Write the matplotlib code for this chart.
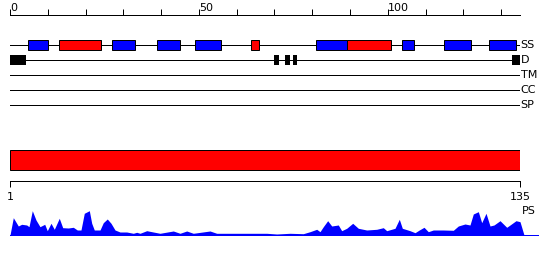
from __future__ import annotations

import matplotlib

matplotlib.use("Agg")
import matplotlib.pyplot as plt
from matplotlib.patches import Rectangle

SEQ_LENGTH = 135

TRACK_NAMES = ["SS", "D", "TM", "CC", "SP"]

# secondary structure segments (start, end) in residues
HELIX_SEGMENTS = [(4.8, 10.0), (27.1, 33.0), (38.9, 45.0), (49.0, 55.9),
                  (80.9, 89.1), (103.8, 107.0), (114.9, 121.9), (126.7, 134.0)]
STRAND_SEGMENTS = [(13.0, 24.0), (63.8, 66.0), (89.1, 100.9)]

# disorder segments
DISORDER_SEGMENTS = [(0.0, 4.2), (69.9, 71.1), (72.8, 74.1), (74.8, 76.1), (132.8, 135.0)]

# PS profile (residue position, score)
PS_POS = [1.0, 1.87, 3.18, 4.07, 5.39, 5.99, 6.86, 7.83, 8.88, 10.12, 10.8, 11.77,
          12.64, 13.95, 14.85, 16.32, 17.63, 18.68, 19.65, 20.52, 21.84, 22.47, 23.15,
          24.65, 25.51, 26.56, 27.54, 28.59, 29.9, 31.66, 33.4, 34.29, 35.16, 36.92,
          38.65, 40.41, 43.91, 45.67, 47.43, 49.16, 53.55, 55.31, 59.59, 63.19, 68.45,
          71.08, 74.57, 78.06, 79.83, 81.59, 82.45, 83.32, 84.47, 85.53, 87.26, 88.15,
          89.47, 91.04, 92.52, 94.72, 97.35, 99.08, 99.98, 102.16, 103.29, 104.08,
          106.1, 107.42, 108.54, 109.78, 110.91, 112.22, 114.85, 117.48, 118.79,
          120.55, 121.86, 122.73, 124.05, 124.94, 126.07, 127.12, 128.17, 129.75,
          131.51, 132.38, 133.95, 135.0, 136.05]
PS_SCORE = [0.0, 17.3, 9.0, 10.7, 10.0, 8.3, 24.3, 15.0, 8.3, 10.7, 4.3, 11.7,
            5.7, 16.7, 7.3, 7.0, 7.7, 5.0, 5.0, 21.7, 24.3, 11.7, 5.0,
            5.0, 12.3, 16.0, 11.7, 5.0, 3.0, 3.0, 1.7, 2.7, 1.7, 4.3,
            3.0, 1.7, 4.0, 1.7, 4.0, 1.7, 4.0, 1.7, 1.7, 1.7, 1.7,
            1.0, 1.7, 1.3, 3.3, 5.7, 3.3, 8.3, 14.3, 9.0, 10.0, 4.3,
            6.7, 11.7, 6.7, 5.0, 5.7, 7.3, 4.3, 6.7, 15.7, 6.7,
            4.3, 2.3, 5.0, 7.7, 3.3, 5.0, 5.0, 4.7, 9.0,
            11.0, 10.0, 21.0, 23.3, 12.3, 21.7, 9.0, 10.0, 14.3,
            7.7, 10.0, 14.3, 13.3, 0.0]

W, H = 550, 260
LW = 0.72  # one pixel
FONT = 8


def fig_rect(x0, y0, x1, y1):
    """Pixel box (top-left origin) -> figure fraction rect."""
    return [x0 / W, 1 - y1 / H, (x1 - x0) / W, (y1 - y0) / H]


def main() -> None:
    plt.rcParams["font.family"] = "DejaVu Sans"
    fig = plt.figure(figsize=(W / 100, H / 100), dpi=100)

    # top ruler
    ax_top = fig.add_axes(fig_rect(10, 15, 520, 16))
    ax_top.set_xlim(0, SEQ_LENGTH)
    ax_top.set_ylim(0, 1)
    for side in ("left", "right", "bottom"):
        ax_top.spines[side].set_visible(False)
    ax_top.spines["top"].set_linewidth(LW)
    ax_top.set_yticks([])
    ax_top.set_xticks([0, 50, 100])
    ax_top.set_xticks(range(0, SEQ_LENGTH, 10), minor=True)
    ax_top.tick_params(axis="x", which="both", top=True, bottom=False, labeltop=True,
                       labelbottom=False, direction="out", length=4, width=LW, pad=-2.5,
                       labelsize=FONT)
    for lab in ax_top.get_xticklabels():
        lab.set_horizontalalignment("left")
    ax_top.patch.set_visible(False)

    # feature tracks, y in pixel rows
    ax = fig.add_axes(fig_rect(10, 0, 520, H))
    ax.set_xlim(0, SEQ_LENGTH)
    ax.set_ylim(H, 0)
    ax.axis("off")
    track_y = {name: 45 + 15 * i for i, name in enumerate(TRACK_NAMES)}
    for name, y in track_y.items():
        ax.plot([0, SEQ_LENGTH], [y, y], color="black", lw=LW, zorder=1)
        ax.annotate(name, (SEQ_LENGTH, y), xytext=(0.5, 0), textcoords="offset points",
                    ha="left", va="center", fontsize=FONT, annotation_clip=False)

    y = track_y["SS"]
    for segs, color in ((HELIX_SEGMENTS, "#0000ff"), (STRAND_SEGMENTS, "#ff0000")):
        for s, e in segs:
            ax.add_patch(Rectangle((s, y - 5), e - s, 10, facecolor=color,
                                   edgecolor="black", lw=LW, zorder=2))
    y = track_y["D"]
    for s, e in DISORDER_SEGMENTS:
        ax.add_patch(Rectangle((s, y - 5), e - s, 10, facecolor="black",
                               edgecolor="black", lw=0, zorder=2))

    # full-length bar
    ax.add_patch(Rectangle((0, 150.3), SEQ_LENGTH, 20, facecolor="#ff0000",
                           edgecolor="black", lw=LW, zorder=2))

    # bottom ruler
    ax_bot = fig.add_axes(fig_rect(10, 179.5, 520, 180.5))
    ax_bot.set_xlim(1, SEQ_LENGTH)
    for side in ("left", "right", "top"):
        ax_bot.spines[side].set_visible(False)
    ax_bot.spines["bottom"].set_linewidth(LW)
    ax_bot.set_yticks([])
    ax_bot.set_xticks([1, SEQ_LENGTH])
    ax_bot.tick_params(axis="x", direction="out", length=4, width=LW, pad=4,
                       labelsize=FONT)
    ax_bot.patch.set_visible(False)

    # PS profile
    ax_ps = fig.add_axes(fig_rect(10, 211, 520, 235))
    ax_ps.set_xlim(1, SEQ_LENGTH)
    ax_ps.set_ylim(0, 24)
    ax_ps.axis("off")
    ax_ps.fill_between(PS_POS, PS_SCORE, 0, color="#0000ff", lw=0, clip_on=False)
    ax_ps.plot([PS_POS[0], SEQ_LENGTH + 4.8], [0, 0], color="#0000ff", lw=LW,
               clip_on=False)
    ax_ps.annotate("PS", (SEQ_LENGTH, 24), xytext=(1, 0), textcoords="offset points",
                   ha="left", va="center", fontsize=FONT, annotation_clip=False)

    fig.savefig("out.png", dpi=100)
    plt.close(fig)


if __name__ == "__main__":
    main()
